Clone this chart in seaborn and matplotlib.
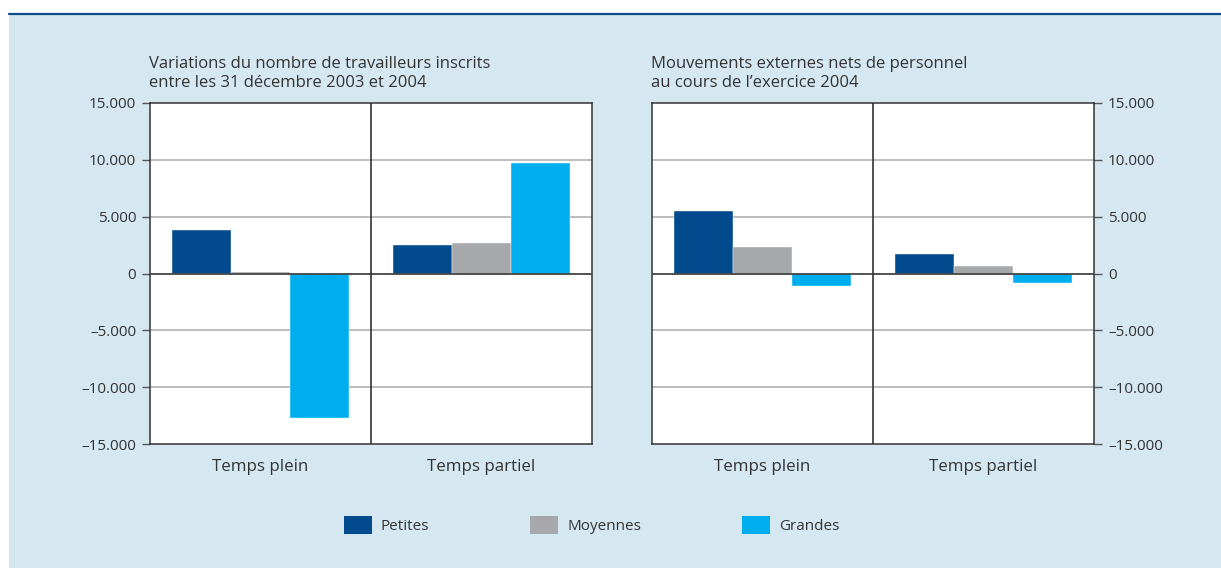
import numpy as np
import pandas as pd
import matplotlib
matplotlib.use("Agg")
import matplotlib.pyplot as plt
from matplotlib.patches import Rectangle, Patch
from matplotlib.ticker import FixedLocator, FuncFormatter
import seaborn as sns

sns.set_theme(style="white")
plt.rcParams["font.family"] = ["Open Sans", "DejaVu Sans"]

# data
categories = ["Temps plein", "Temps partiel"]
sizes = ["Petites", "Moyennes", "Grandes"]
variations = {  # inscrits, 31/12/2003 -> 31/12/2004
    "Petites": [3800, 2500],
    "Moyennes": [120, 2700],
    "Grandes": [-12700, 9700],
}
mouvements = {  # mouvements externes nets, exercice 2004
    "Petites": [5500, 1700],
    "Moyennes": [2300, 650],
    "Grandes": [-1100, -800],
}
yticks = [-15000, -10000, -5000, 0, 5000, 10000, 15000]
titles = [
    "Variations du nombre de travailleurs inscrits\nentre les 31 décembre 2003 et 2004",
    "Mouvements externes nets de personnel\nau cours de l\u2019exercice 2004",
]

colors = {"Petites": "#004a8d", "Moyennes": "#a7a8ab", "Grandes": "#00adee"}
bg = "#d5e7f1"
txt = "#333333"


def to_frame(d):
    rows = []
    for s in sizes:
        for c, v in zip(categories, d[s]):
            rows.append({"cat": c, "size": s, "value": v})
    return pd.DataFrame(rows)


def fmt(v, pos):
    s = f"{abs(int(v)):,}".replace(",", ".")
    return ("\u2013" + s) if v < 0 else s


W, H = 1221, 568
fig = plt.figure(figsize=(W / 100, H / 100), dpi=100, facecolor="white")
fig.patches.append(Rectangle((9 / W, 0), 1 - 9 / W, 1 - 15 / H, transform=fig.transFigure,
                             facecolor=bg, edgecolor="none", zorder=-10))
fig.lines.append(plt.Line2D([9 / W, 1], [1 - 14 / H, 1 - 14 / H], transform=fig.transFigure,
                            color="#0f4c8a", linewidth=1.6))

ax_w = 442 / W
ax_h = 341 / H
ax_b = (H - 444) / H
axes = [fig.add_axes([150 / W, ax_b, ax_w, ax_h]),
        fig.add_axes([652 / W, ax_b, ax_w, ax_h])]

for ax, data, title, side in zip(axes, [variations, mouvements], titles, ["left", "right"]):
    df = to_frame(data)
    ax.set_facecolor("white")
    sns.barplot(data=df, x="cat", y="value", hue="size", hue_order=sizes,
                order=categories, palette=colors, saturation=1, width=0.8, ax=ax,
                edgecolor="white", linewidth=0.3, legend=False, zorder=3)
    ax.set_ylim(-15000, 15000)
    ax.set_xlim(-0.5, 1.5)
    for t in [-10000, -5000, 5000, 10000]:
        ax.axhline(t, color="#b8b8b8", linewidth=1.3, zorder=1)
    ax.axhline(0, color="#444444", linewidth=1.3, zorder=4)
    ax.axvline(0.5, color="#333333", linewidth=1.2, zorder=4)
    ax.yaxis.set_major_locator(FixedLocator(yticks))
    ax.yaxis.set_major_formatter(FuncFormatter(fmt))
    if side == "right":
        ax.yaxis.tick_right()
    ax.tick_params(axis="y", which="major", length=6, width=1, color="#555555",
                   labelsize=11, labelcolor=txt, pad=4,
                   left=(side == "left"), right=(side == "right"))
    ax.tick_params(axis="x", length=0, labelsize=12.2, labelcolor=txt, pad=11)
    ax.set_xlabel("")
    ax.set_ylabel("")
    for sp in ax.spines.values():
        sp.set_visible(True)
        sp.set_color("#333333")
        sp.set_linewidth(1.1)
    ax.text(-0.003, 1.035, title, transform=ax.transAxes, ha="left", va="bottom",
            fontsize=12, color=txt, linespacing=1.25)

handles = [Patch(facecolor=colors[s], edgecolor="none", label=s) for s in sizes]
fig.legend(handles=handles, loc="center", bbox_to_anchor=(591.5 / W, (H - 525) / H),
           ncol=3, frameon=False, fontsize=11, labelcolor=txt,
           handlelength=1.83, handleheight=1.5, handletextpad=0.6, columnspacing=6.6)

fig.savefig("out.png", dpi=100, facecolor="white")
